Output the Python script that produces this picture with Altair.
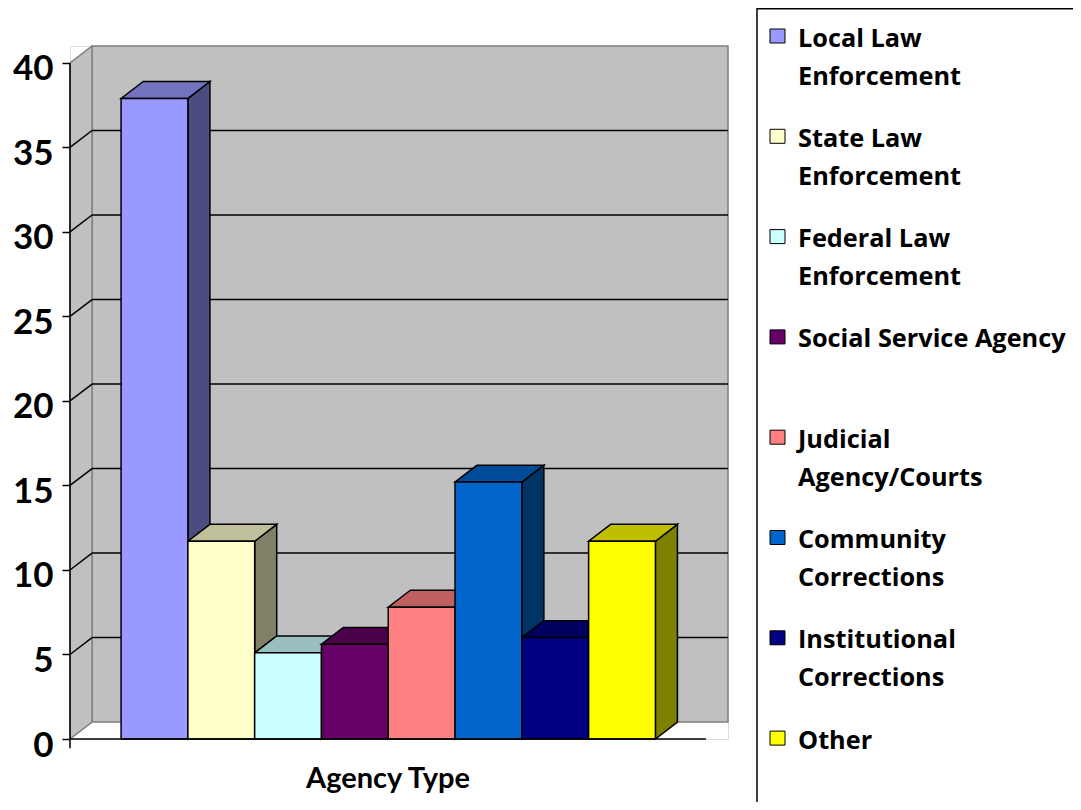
import altair as alt
import pandas as pd

# ---------------- data ----------------
categories = [
    "Local Law Enforcement", "State Law Enforcement", "Federal Law Enforcement",
    "Social Service Agency", "Judicial Agency/Courts", "Community Corrections",
    "Institutional Corrections", "Other",
]
values = [37.9, 11.7, 5.1, 5.6, 7.8, 15.2, 6.0, 11.7]
colors = ["#9999FF", "#FFFFCC", "#CCFFFF", "#660066", "#FF8080", "#0066CC", "#000080", "#FFFF00"]
legend_labels = [
    "Local Law\nEnforcement", "State Law\nEnforcement", "Federal Law\nEnforcement",
    "Social Service Agency", "Judicial\nAgency/Courts", "Community\nCorrections",
    "Institutional\nCorrections", "Other",
]
y_ticks = [0, 5, 10, 15, 20, 25, 30, 35, 40]
x_title = "Agency Type"

# ---------------- geometry / style ----------------
X0, X1 = -0.765, 8.757        # front floor edge (bar units)
DX, DY = 0.33, 1.0            # 3-D depth offset (x in bar units, y in value units)
YMAX = 40
W, H = 658, 693
WALL = "#C0C0C0"
WALL_EDGE = "#808080"
FONT = "Lato"
LEG_FONT = "Open Sans"


def shade(hx, f):
    hx = hx.lstrip("#")
    r, g, b = (int(hx[k:k + 2], 16) for k in (0, 2, 4))
    return "#%02x%02x%02x" % (round(r * f), round(g * f), round(b * f))


xs = alt.Scale(domain=[X0, X1 + DX], nice=False, zero=False)
ys = alt.Scale(domain=[0, YMAX + DY], nice=False, zero=False)
yax = alt.Axis(
    values=y_ticks, title=None, grid=False, domain=False,
    tickColor="black", tickSize=8, tickWidth=1.5,
    labelFont=FONT, labelFontSize=35, labelFontWeight="bold", labelColor="black",
    labelPadding=9, labelOffset=6,
)


def Y(field):
    return alt.Y(field, scale=ys, axis=yax)


def X(field):
    return alt.X(field, scale=xs, axis=None)


# bar faces
front_rows, side_rows, top_rows = [], [], []
for i, (c, v, col) in enumerate(zip(categories, values, colors)):
    xl, xr = i, i + 1
    front_rows.append(dict(cat=c, xl=xl, xr=xr, v=v, base=0, col=col))
    side_rows.append(dict(cat=c, x=xr, top=v, bot=0, col=shade(col, 0.5)))
    side_rows.append(dict(cat=c, x=xr + DX, top=v + DY, bot=DY, col=shade(col, 0.5)))
    top_rows.append(dict(cat=c, y=v, xa=xl, xb=xr, col=shade(col, 0.75)))
    top_rows.append(dict(cat=c, y=v + DY, xa=xl + DX, xb=xr + DX, col=shade(col, 0.75)))
front_df = pd.DataFrame(front_rows)
side_df = pd.DataFrame(side_rows)
top_df = pd.DataFrame(top_rows)

# walls
back_wall = alt.Chart(pd.DataFrame([dict(a=X0 + DX, b=X1 + DX, lo=DY, hi=YMAX + DY)])).mark_rect(
    fill=WALL, stroke=WALL_EDGE, strokeWidth=1.5
).encode(x=X("a:Q"), x2="b:Q", y=Y("lo:Q"), y2="hi:Q")

left_wall = alt.Chart(pd.DataFrame([
    dict(x=X0, top=YMAX, bot=0), dict(x=X0 + DX, top=YMAX + DY, bot=DY)
])).mark_area(fill=WALL, stroke=WALL_EDGE, strokeWidth=1.5).encode(
    x=X("x:Q"), y=Y("top:Q"), y2="bot:Q",
)

grid_vals = [t for t in y_ticks if 0 < t < YMAX]
grid_df = pd.DataFrame(dict(g=grid_vals))
grid_df["gb"] = grid_df["g"] + DY
grid_df["xa"] = X0 + DX
grid_df["xb"] = X1 + DX
grid_df["xf"] = X0

back_grid = alt.Chart(grid_df).mark_rule(color="black", strokeWidth=1.5).encode(
    x=X("xa:Q"), x2="xb:Q", y=Y("gb:Q"),
)
side_grid = alt.Chart(grid_df).mark_rule(color="black", strokeWidth=1.5).encode(
    x=X("xf:Q"), x2="xa:Q", y=Y("g:Q"), y2="gb:Q",
)

sides = alt.Chart(side_df).mark_area(stroke="black", strokeWidth=1.5).encode(
    x=X("x:Q"), y=Y("top:Q"), y2="bot:Q",
    detail="cat:N",
    color=alt.Color("col:N", scale=None),
)
tops = alt.Chart(top_df).mark_area(orient="horizontal", stroke="black", strokeWidth=1.5).encode(
    y=Y("y:Q"), x=X("xa:Q"), x2="xb:Q",
    detail="cat:N",
    color=alt.Color("col:N", scale=None),
)
fronts = alt.Chart(front_df).mark_rect(stroke="black", strokeWidth=1.5).encode(
    x=X("xl:Q"), x2="xr:Q", y=Y("v:Q"), y2="base:Q",
    color=alt.Color("col:N", scale=None),
)

# front axis lines
axis_lines = alt.Chart(pd.DataFrame([
    dict(x=X0, x2=X1, y=0, y2=0),
    dict(x=X0, x2=X0, y=-0.55, y2=YMAX),
])).mark_rule(color="black", strokeWidth=1.5).encode(
    x=X("x:Q"), x2="x2:Q", y=Y("y:Q"), y2="y2:Q",
)

title_txt = alt.Chart(pd.DataFrame([dict(x=(X0 + X1) / 2, t=x_title)])).mark_text(
    font=FONT, fontSize=29, fontWeight="bold", color="black", baseline="alphabetic", align="center"
).encode(x=X("x:Q"), y=alt.value(742), text="t:N")

# legend (drawn manually, pixel positions relative to plot origin)
OX, OY = 70, 46
box = alt.Chart(pd.DataFrame([dict(a=757 - OX, b=1100 - OX, c=8.8 - OY, d=830 - OY)])).mark_rect(
    fill="white", stroke="black", strokeWidth=1.5
).encode(
    x=alt.X("a:Q", scale=None, axis=None), x2="b:Q",
    y=alt.Y("c:Q", scale=None, axis=None), y2="d:Q",
)
sw_rows, lab_rows = [], []
for i, (lab, col) in enumerate(zip(legend_labels, colors)):
    yc = 36 + 100.3 * i - OY
    sw_rows.append(dict(a=770 - OX, b=785 - OX, c=yc - 7, d=yc + 7, col=col))
    for j, line in enumerate(lab.split("\n")):
        lab_rows.append(dict(x=798 - OX, y=46.5 + 100.3 * i + 38 * j - OY, t=line))
swatches = alt.Chart(pd.DataFrame(sw_rows)).mark_rect(stroke="black", strokeWidth=1).encode(
    x=alt.X("a:Q", scale=None, axis=None), x2="b:Q",
    y=alt.Y("c:Q", scale=None, axis=None), y2="d:Q",
    color=alt.Color("col:N", scale=None),
)
labels = alt.Chart(pd.DataFrame(lab_rows)).mark_text(
    font=LEG_FONT, fontSize=25.3, fontWeight="bold", color="black", align="left", baseline="alphabetic"
).encode(
    x=alt.X("x:Q", scale=None, axis=None),
    y=alt.Y("y:Q", scale=None, axis=None),
    text="t:N",
)

chart = alt.layer(
    back_wall, left_wall, back_grid, side_grid,
    sides, tops, fronts, axis_lines, title_txt,
    box, swatches, labels,
).properties(
    width=W, height=H,
    autosize=alt.AutoSizeParams(type="none"),
    padding={"left": 62, "top": 38, "right": 345, "bottom": 63},
).configure_view(stroke=None).configure(background="white")

chart.save("out.html", embed_options={"renderer": "svg", "actions": False})
